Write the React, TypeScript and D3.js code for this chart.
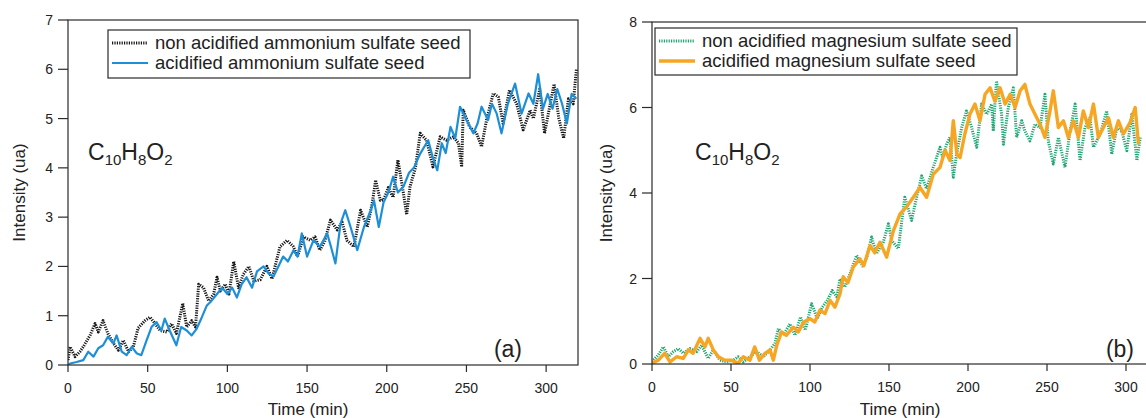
import React from "react";
import * as d3 from "d3";

// ---------- data (time in min, intensity in ua) ----------
const nonAcidAmmonium: [number, number][] = [
  [0,0.1],[1.3,0.37],[4.4,0.17],[7.5,0.27],[9.6,0.37],[13.8,0.6],[17,0.84],[19,0.67],[22,0.9],[25,0.64],[28.5,0.44],[31.6,0.3],[34.7,0.5],[38,0.27],[41,0.37],[44,0.75],[48.3,0.9],[51.5,0.97],[54.6,0.84],[57.8,0.7],[62,0.67],[65,0.84],[68,0.64],[72,1.25],[74.5,0.77],[77.6,0.9],[80,0.77],[82,1.64],[85,1.57],[88.3,1.3],[91.4,1.44],[93.5,1.78],[95.6,1.5],[98.7,1.64],[101,1.44],[104,2.1],[107,1.57],[110,1.84],[113.5,2.0],[116.6,1.7],[120.6,1.73],[124.8,2.0],[128,1.75],[133,2.4],[137.4,2.53],[141.5,2.4],[144,2.2],[147.8,2.6],[152,2.53],[155,2.6],[158,2.33],[161,2.5],[164.7,2.94],[168.9,2.74],[172,2.9],[175,2.53],[179.4,2.4],[183.6,3.14],[187.8,2.8],[191,3.3],[193,3.75],[196,3.34],[198,3.35],[201,3.6],[204,3.4],[207,4.16],[210.5,3.48],[212.5,3.05],[214.6,3.62],[218,4.0],[221,4.7],[225,4.56],[229,4.02],[233.5,4.63],[237.5,4.56],[241.8,4.63],[245,4.5],[247,4.02],[248,5.17],[252,4.83],[256.4,4.7],[259.5,4.43],[262.6,4.97],[266.8,5.51],[270,5.44],[273,4.9],[277,5.58],[281.5,5.3],[285.6,4.77],[290,5.17],[292,5.0],[296,5.6],[299,4.7],[302,5.2],[305,5.7],[308,5.0],[311,4.6],[314,5.4],[317,5.3],[319,6.0]
];
const acidAmmonium: [number, number][] = [
  [0,0],[1.3,0.03],[5.4,0.06],[9.6,0.1],[12.7,0.27],[16,0.17],[19,0.34],[22,0.4],[25,0.57],[28.5,0.44],[30.5,0.6],[33.7,0.27],[36.8,0.2],[40,0.37],[43,0.24],[46,0.2],[49.3,0.5],[52.4,0.77],[55.5,0.87],[58.6,0.7],[60.7,0.94],[63.8,0.7],[68,0.4],[71,0.77],[74.5,0.7],[77.6,0.6],[80.8,0.74],[84,0.97],[87,1.2],[90,1.3],[93.5,1.44],[96.7,1.57],[100,1.44],[103,1.57],[106,1.37],[109,1.64],[112,1.78],[115.5,1.57],[118.6,1.9],[122.7,2.0],[126,1.85],[129,1.8],[132,2.0],[135,2.2],[138,2.1],[141.5,2.33],[144,2.2],[146.7,2.67],[150,2.2],[154,2.53],[158,2.4],[162.6,2.67],[165,2.4],[167.8,2.06],[171,2.87],[174,3.14],[177.3,2.8],[181.5,2.33],[185.7,2.8],[190,3.14],[192,3.34],[195,2.8],[198,3.3],[201,3.5],[204,3.82],[207,3.5],[210.5,3.62],[214,3.9],[217,4.0],[221,4.29],[226,4.56],[229,4.2],[231.7,3.95],[234.5,4.5],[237,4.3],[240,4.83],[243,4.6],[246,5.24],[250,4.97],[254.3,4.7],[257,4.9],[259.5,5.24],[263.6,4.97],[266,5.3],[269,5.1],[272,4.7],[276,5.3],[280.5,5.71],[284.6,5.1],[289,5.51],[292,5.3],[295,5.9],[298,5.2],[301,5.5],[304,5.2],[307,5.6],[310,5.3],[313,4.9],[316,5.5],[319,5.4]
];
const nonAcidMagnesium: [number, number][] = [
  [0,0.05],[0.8,0.09],[4,0.21],[7.2,0.4],[10.3,0.17],[13.5,0.29],[16.7,0.36],[19.8,0.25],[24,0.36],[28.3,0.29],[31.4,0.44],[35.6,0.13],[38.8,0.33],[43,0.09],[47,0.05],[51.5,0.09],[54.6,0.17],[57.8,0.05],[62,0.17],[66.2,0.29],[70.5,0.17],[74.7,0.33],[77.8,0.48],[80,0.83],[83,0.67],[87.3,0.94],[90.5,0.67],[94,1.1],[97,0.79],[101,1.41],[104.6,1.06],[107.8,1.33],[111,1.49],[114,1.72],[117,1.57],[119,1.99],[122,1.8],[125.3,2.11],[129.5,2.54],[133.7,2.27],[136,2.5],[139,2.97],[142,2.58],[146.4,2.85],[149.6,3.28],[151.7,2.89],[155.9,2.7],[160,3.9],[164.3,3.36],[167.5,3.9],[170.7,4.4],[173.8,4.1],[178,4.6],[182.3,5.07],[184,4.83],[186.5,5.14],[188.6,5.3],[190.7,4.37],[192.8,4.91],[196,5.53],[199,5.92],[202.3,5.53],[205.5,5.07],[208.6,6.08],[211.8,5.84],[215,6.08],[216,5.45],[218,6.62],[221.3,5.84],[222.4,5.14],[225.5,6.0],[228.7,6.46],[230.8,5.3],[234,5.69],[236,5.45],[239.2,5.22],[242.4,5.61],[245.6,5.53],[248.7,6.31],[250.8,5.22],[254,4.68],[257.2,5.3],[261.4,4.6],[264.6,5.45],[267.8,6.08],[270.9,4.76],[274,5.53],[277.2,5.76],[279.4,5.07],[283.6,5.38],[287.8,5.92],[291,4.91],[294.2,5.53],[297.3,5.45],[300.5,4.99],[303.7,5.84],[306.9,4.76],[309,5.3]
];
const acidMagnesium: [number, number][] = [
  [0,0.02],[4,0.09],[8,0.25],[11.4,0.05],[15.6,0.17],[19.8,0.13],[23,0.33],[26,0.25],[30.4,0.6],[33.5,0.4],[35.6,0.6],[38.8,0.33],[42,0.17],[46,0.09],[50,0.09],[54.6,0.02],[57.8,0.17],[62,0.09],[65,0.4],[68,0.09],[71.5,0.25],[74.7,0.33],[76.8,0.09],[79,0.44],[82,0.75],[85,0.67],[89.5,0.86],[92.6,0.75],[96,0.98],[100,1.06],[103,0.98],[106.3,1.26],[109.5,1.18],[112.7,1.49],[115.8,1.33],[119,1.64],[121,2.04],[124,1.9],[127.4,2.27],[131.6,2.46],[134,2.3],[138,2.77],[141,2.6],[144.3,2.85],[148.5,2.5],[152.8,3.12],[157,3.51],[161,3.67],[165.4,3.9],[169.6,4.13],[173.8,3.9],[178,4.44],[182.3,4.6],[185.5,5.0],[188.6,4.76],[190.7,5.69],[193,4.9],[195,4.83],[198,5.38],[201.2,5.84],[204.4,6.08],[207.6,5.69],[210.8,6.31],[214,6.46],[217,6.15],[220.3,6.46],[223.5,6.08],[226.7,6.31],[229.8,6.0],[233,6.39],[236,6.54],[239.2,6.08],[242.4,5.84],[245.6,5.61],[248.7,5.3],[251.9,5.92],[254,6.39],[257.2,5.53],[260.4,5.69],[263.5,5.3],[266.7,5.69],[269.9,5.3],[273,5.92],[276.2,5.53],[279.4,6.08],[282.5,5.3],[285.7,5.53],[288.9,5.76],[292,5.3],[295.2,5.69],[298.4,5.38],[302.6,5.65],[305.8,6.0],[307.9,5.14]
];

const xTicks = [0, 50, 100, 150, 200, 250, 300];
const yTicksA = [0, 1, 2, 3, 4, 5, 6, 7];
const yTicksB = [0, 2, 4, 6, 8];
const legendA = ["non acidified ammonium sulfate seed", "acidified ammonium sulfate seed"];
const legendB = ["non acidified magnesium sulfate seed", "acidified magnesium sulfate seed"];

const FONT = "'Liberation Sans', Arial, Helvetica, sans-serif";
const AXIS = "#2a2a2a";

type SeriesStyle = { data: [number, number][]; color: string; width: number; dash?: string };

function Panel(props: {
  left: number; right: number; top: number; bottom: number; frameRight: number;
  xMax: number; yMax: number; yTicks: number[];
  series: SeriesStyle[]; legend: string[]; legendBox: [number, number, number, number];
  label: string; labelX: number; formulaX: number; yTitleX: number; xTitleX: number; clipId: string;
}) {
  const { left, right, top, bottom, frameRight, xMax, yMax, yTicks, series, legend, legendBox, label, labelX, formulaX, yTitleX, xTitleX, clipId } = props;
  const x = d3.scaleLinear().domain([0, xMax]).range([left, right]);
  const y = d3.scaleLinear().domain([0, yMax]).range([bottom, top]);
  const line = d3.line<[number, number]>().x(d => x(d[0])).y(d => y(d[1]));
  const [lx, ly, lw, lh] = legendBox;
  return (
    <g>
      <defs>
        <clipPath id={clipId}>
          <rect x={left} y={top} width={frameRight - left} height={bottom - top} />
        </clipPath>
      </defs>
      <g clipPath={`url(#${clipId})`}>
        {series.map((s, i) => (
          <path key={i} d={line(s.data) || ""} fill="none" stroke={s.color} strokeWidth={s.width}
            strokeDasharray={s.dash} strokeLinejoin="round" />
        ))}
      </g>
      <rect x={left} y={top} width={frameRight - left} height={bottom - top} fill="none" stroke={AXIS} strokeWidth={1.2} />
      {xTicks.map(t => (
        <g key={t}>
          <line x1={x(t)} x2={x(t)} y1={bottom} y2={bottom + 7} stroke={AXIS} strokeWidth={1.2} />
          <text x={x(t)} y={bottom + 28} textAnchor="middle" fontSize={14} fontFamily={FONT} fill="#222">{t}</text>
        </g>
      ))}
      {yTicks.map(t => (
        <g key={t}>
          <line x1={left - 10} x2={left} y1={y(t)} y2={y(t)} stroke={AXIS} strokeWidth={1.2} />
          <text x={left - 15} y={y(t) + 5} textAnchor="end" fontSize={14} fontFamily={FONT} fill="#222">{t}</text>
        </g>
      ))}
      <text x={xTitleX} y={415} textAnchor="middle" fontSize={17} fontFamily={FONT} fill="#222">Time (min)</text>
      <text transform={`translate(${yTitleX},${(top + bottom) / 2}) rotate(-90)`} textAnchor="middle" fontSize={17} fontFamily={FONT} fill="#222">Intensity (ua)</text>
      <text x={formulaX} y={160} fontSize={23} fontFamily={FONT} fill="#222">
        C<tspan fontSize={15} dy={5}>10</tspan><tspan dy={-5}>H</tspan><tspan fontSize={15} dy={5}>8</tspan><tspan dy={-5}>O</tspan><tspan fontSize={15} dy={5}>2</tspan>
      </text>
      <text x={labelX} y={357} textAnchor="end" fontSize={23} fontFamily={FONT} fill="#222">{label}</text>
      <rect x={lx} y={ly} width={lw} height={lh} fill="#fff" stroke={AXIS} strokeWidth={1.2} />
      {series.map((s, i) => (
        <g key={i}>
          <line x1={lx + 4} x2={lx + 40} y1={ly + 13 + i * 20} y2={ly + 13 + i * 20} stroke={s.color} strokeWidth={s.width} strokeDasharray={s.dash} />
          <text x={lx + 47} y={ly + 19 + i * 20} fontSize={18.5} fontFamily={FONT} fill="#222">{legend[i]}</text>
        </g>
      ))}
    </g>
  );
}

export default function App() {
  return (
    <svg width={1146} height={418} style={{ position: "absolute", left: 0, top: 0, background: "#fff" }}>
      <rect width={1146} height={418} fill="#fff" />
      <Panel left={68} right={578} top={20} bottom={365} frameRight={578} xMax={320} yMax={7} yTicks={yTicksA}
        series={[
          { data: nonAcidAmmonium, color: "#151515", width: 3, dash: "1.2,1.2" },
          { data: acidAmmonium, color: "#1d8fd8", width: 2.2 },
        ]}
        legend={legendA} legendBox={[108, 30, 362, 48]} label="(a)" labelX={522} formulaX={88} yTitleX={25} xTitleX={308} clipId="clipA" />
      <Panel left={652} right={1126} top={22} bottom={364} frameRight={1160} xMax={300} yMax={8} yTicks={yTicksB}
        series={[
          { data: nonAcidMagnesium, color: "#1fa571", width: 3, dash: "1.2,1.2" },
          { data: acidMagnesium, color: "#f6a623", width: 3.4 },
        ]}
        legend={legendB} legendBox={[655, 28, 362, 47]} label="(b)" labelX={1134} formulaX={695} yTitleX={612} xTitleX={900} clipId="clipB" />
    </svg>
  );
}
